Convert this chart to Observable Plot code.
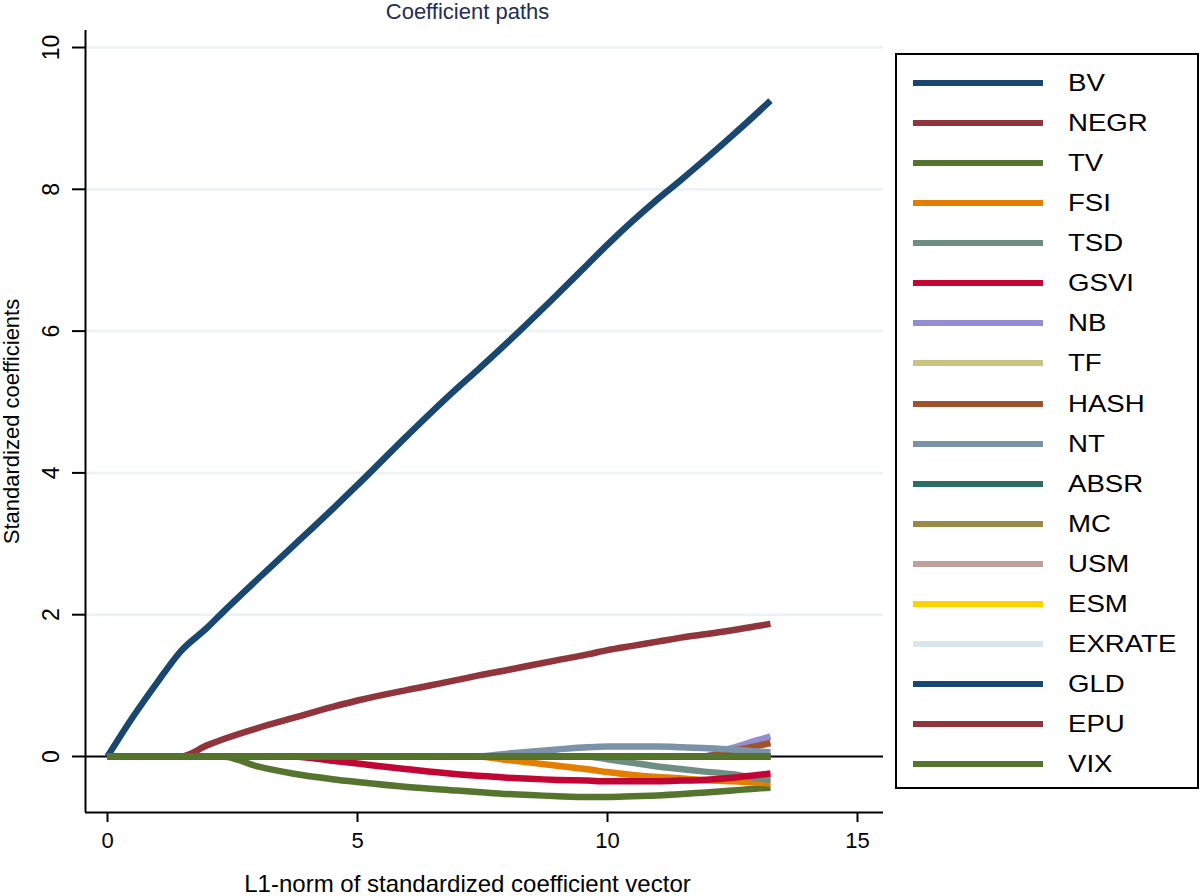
<!DOCTYPE html>
<html>
<head>
<meta charset="utf-8">
<script src="https://cdn.jsdelivr.net/npm/d3@7"></script>
<script src="https://cdn.jsdelivr.net/npm/@observablehq/plot@0.6"></script>
<style>
  html, body { margin: 0; padding: 0; background: #ffffff; }
  #wrap { position: relative; width: 1200px; height: 896px; overflow: hidden; background: #fff;
          font-family: "Liberation Sans", Arial, Helvetica, sans-serif; }
  #chart { position: absolute; left: 0; top: 0; }
  #legend { position: absolute; left: 895px; top: 53px; width: 304px; height: 736px;
            box-sizing: border-box; border: 2px solid #000; background: #fff; }
  .item { position: absolute; left: 0; height: 0; }
  .swatch { position: absolute; left: 16px; width: 130px; height: 6px; top: -3px; }
  .lab { position: absolute; left: 171px; top: -14px; font-size: 24px; line-height: 28px; color: #000;
         white-space: nowrap; transform: scaleX(1.15); transform-origin: left center; }
</style>
</head>
<body>
<div id="wrap">
  <div id="chart"></div>
  <div id="legend"></div>
</div>
<script>
// ---------- data ----------
const chartTitle = "Coefficient paths";
const xTitle = "L1-norm of standardized coefficient vector";
const yTitle = "Standardized coefficients";

const xDomain = [-0.44, 15.52];
const yDomain = [-0.79, 10.24];
const xTicks = [0, 5, 10, 15];
const yTicks = [0, 2, 4, 6, 8, 10];
const gridTicks = [2, 4, 6, 8, 10];

const seriesNames = ["BV","NEGR","TV","FSI","TSD","GSVI","NB","TF","HASH","NT","ABSR","MC","USM","ESM","EXRATE","GLD","EPU","VIX"];
const seriesColors = ["#1a476f","#90353b","#55752f","#e37e00","#6e8e84","#c10534","#938dd2","#cac27e","#a0522d","#7b92a8","#2d6d66","#9c8847","#bfa19c","#ffd200","#d9e6eb","#1a476f","#90353b","#55752f"];

// L1 norm of the coefficient vector at each step of the path
const l1Norm = [0, 0.5, 1, 1.46, 2, 2.3, 3, 3.7, 4.5, 5, 6, 7, 7.4, 8, 9, 9.6, 10, 10.5, 11, 11.5, 11.9, 12.5, 13, 13.26];

const BV     = [0, 0.55, 1.05, 1.48, 1.82, 2.03, 2.5, 2.96, 3.49, 3.83, 4.53, 5.2, 5.45, 5.84, 6.52, 6.94, 7.22, 7.55, 7.86, 8.15, 8.39, 8.76, 9.08, 9.25];
const NEGR   = [0, 0, 0, 0, 0.16, 0.24, 0.4, 0.54, 0.7, 0.79, 0.94, 1.08, 1.14, 1.22, 1.36, 1.44, 1.5, 1.56, 1.62, 1.68, 1.72, 1.78, 1.84, 1.87];
const TV     = [0, 0, 0, 0, 0, 0, -0.14, -0.24, -0.32, -0.36, -0.43, -0.48, -0.5, -0.53, -0.56, -0.57, -0.57, -0.56, -0.55, -0.53, -0.51, -0.48, -0.45, -0.44];
const FSI    = [0, 0, 0, 0, 0, 0, 0, 0, 0, 0, 0, 0, 0, -0.05, -0.13, -0.18, -0.22, -0.26, -0.29, -0.31, -0.33, -0.35, -0.37, -0.38];
const TSD    = [0, 0, 0, 0, 0, 0, 0, 0, 0, 0, 0, 0, 0, 0, 0, 0, -0.04, -0.09, -0.14, -0.18, -0.21, -0.25, -0.31, -0.33];
const GSVI   = [0, 0, 0, 0, 0, 0, 0, 0, -0.06, -0.1, -0.18, -0.25, -0.27, -0.3, -0.33, -0.34, -0.35, -0.35, -0.35, -0.34, -0.33, -0.3, -0.26, -0.24];
const NB     = [0, 0, 0, 0, 0, 0, 0, 0, 0, 0, 0, 0, 0, 0, 0, 0, 0, 0, 0, 0, 0, 0.12, 0.23, 0.28];
const TF     = [0, 0, 0, 0, 0, 0, 0, 0, 0, 0, 0, 0, 0, 0, 0, 0, 0, 0, 0, 0, 0, 0, 0, 0];
const HASH   = [0, 0, 0, 0, 0, 0, 0, 0, 0, 0, 0, 0, 0, 0, 0, 0, 0, 0, 0, 0, 0, 0.08, 0.15, 0.19];
const NT     = [0, 0, 0, 0, 0, 0, 0, 0, 0, 0, 0, 0, 0, 0.04, 0.1, 0.13, 0.14, 0.14, 0.14, 0.13, 0.12, 0.1, 0.07, 0.06];
const ABSR   = [0, 0, 0, 0, 0, 0, 0, 0, 0, 0, 0, 0, 0, 0, 0, 0, 0, 0, 0, 0, 0, 0, 0, 0];
const MC     = [0, 0, 0, 0, 0, 0, 0, 0, 0, 0, 0, 0, 0, 0, 0, 0, 0, 0, 0, 0, 0, 0, 0, 0];
const USM    = [0, 0, 0, 0, 0, 0, 0, 0, 0, 0, 0, 0, 0, 0, 0, 0, 0, 0, 0, 0, 0, 0, 0, 0];
const ESM    = [0, 0, 0, 0, 0, 0, 0, 0, 0, 0, 0, 0, 0, 0, 0, 0, 0, 0, 0, 0, 0, 0, 0, 0];
const EXRATE = [0, 0, 0, 0, 0, 0, 0, 0, 0, 0, 0, 0, 0, 0, 0, 0, 0, 0, 0, 0, 0, 0, 0, 0];
const GLD    = [0, 0, 0, 0, 0, 0, 0, 0, 0, 0, 0, 0, 0, 0, 0, 0, 0, 0, 0, 0, 0, 0, 0, 0];
const EPU    = [0, 0, 0, 0, 0, 0, 0, 0, 0, 0, 0, 0, 0, 0, 0, 0, 0, 0, 0, 0, 0, 0, 0, 0];
const VIX    = [0, 0, 0, 0, 0, 0, 0, 0, 0, 0, 0, 0, 0, 0, 0, 0, 0, 0, 0, 0, 0, 0, 0, 0];

const seriesValues = [BV, NEGR, TV, FSI, TSD, GSVI, NB, TF, HASH, NT, ABSR, MC, USM, ESM, EXRATE, GLD, EPU, VIX];

// ---------- build table ----------
const rows = [];
seriesNames.forEach((name, s) => {
  l1Norm.forEach((x, i) => rows.push({name, l1: x, coef: seriesValues[s][i]}));
});

const font = '"Liberation Sans", Arial, Helvetica, sans-serif';

const chart = Plot.plot({
  width: 1200,
  height: 896,
  marginLeft: 85,
  marginRight: 317,
  marginTop: 30,
  marginBottom: 84,
  style: {fontFamily: font, background: "transparent", color: "#000", overflow: "visible"},
  x: {domain: xDomain},
  y: {domain: yDomain},
  color: {domain: seriesNames, range: seriesColors},
  marks: [
    Plot.ruleY(gridTicks, {stroke: "#eaf2f3", strokeWidth: 2.5}),
    Plot.ruleY([0], {stroke: "#000", strokeWidth: 2}),
    Plot.ruleX([xDomain[0]], {stroke: "#000", strokeWidth: 2}),
    Plot.ruleY([yDomain[0]], {stroke: "#000", strokeWidth: 2}),
    Plot.axisX(xTicks, {tickSize: 10, tickPadding: 10, fontSize: 22, strokeWidth: 2, label: null,
                        tickFormat: d3.format("d")}),
    Plot.axisY(yTicks, {tickSize: 13, tickRotate: -90, tickPadding: 14, fontSize: 23, strokeWidth: 2, label: null,
                        tickFormat: d3.format("d")}),
    Plot.line(rows, {x: "l1", y: "coef", z: "name", stroke: "name", strokeWidth: 6.5,
                     curve: "monotone-x", strokeLinejoin: "round", strokeLinecap: "butt"}),
    Plot.text([chartTitle], {text: d => d, frameAnchor: "top", dx: -17, dy: -12, lineAnchor: "bottom",
                             fontSize: 22, fill: "#1e2f55"}),
    Plot.text([xTitle], {text: d => d, frameAnchor: "bottom", dx: -17, dy: 79, lineAnchor: "bottom",
                         fontSize: 24, fill: "#000"}),
    Plot.text([yTitle], {text: d => d, frameAnchor: "left", dx: -74, rotate: -90, lineAnchor: "middle",
                         textAnchor: "middle", fontSize: 22, fill: "#000"})
  ]
});
document.getElementById("chart").appendChild(chart);

// ---------- legend ----------
const legend = d3.select("#legend");
const rowTop = 27.7, rowStep = 40.1;
seriesNames.forEach((name, i) => {
  const item = legend.append("div").attr("class", "item").style("top", (rowTop + rowStep * i) + "px");
  item.append("div").attr("class", "swatch").style("background", seriesColors[i]);
  item.append("div").attr("class", "lab").text(name);
});
</script>
</body>
</html>
